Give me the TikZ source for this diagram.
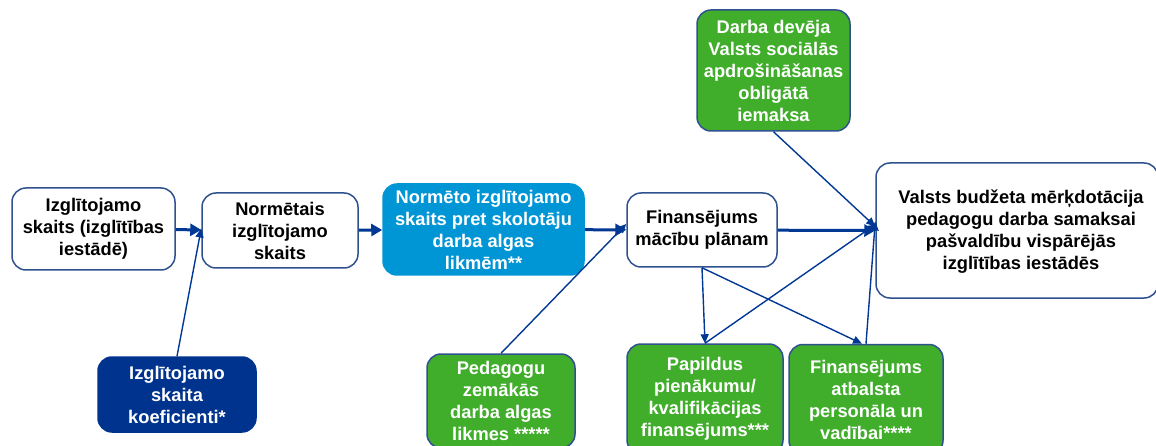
\documentclass[tikz,border=0pt]{standalone}
\usepackage{fontspec}
\setmainfont{Liberation Sans}
\usetikzlibrary{arrows.meta}
\definecolor{frame}{RGB}{47,82,143}
\definecolor{flow}{RGB}{0,56,147}
\definecolor{leaf}{RGB}{64,173,43}
\definecolor{sky}{RGB}{0,150,214}
\definecolor{navy}{RGB}{0,51,141}
\tikzstyle{box}=[draw=frame, line width=1.5pt, rounded corners=14pt, align=center, inner sep=2pt, font=\bfseries\fontsize{18.3}{22}\selectfont]
\tikzstyle{stagebox}=[box, fill=white, text=black]
\tikzstyle{greenbox}=[box, fill=leaf, text=white]
\tikzstyle{skybox}=[box, fill=sky, draw=sky, text=white]
\tikzstyle{navybox}=[box, fill=navy, draw=navy, text=white]
\tikzstyle{mainflow}=[draw=flow, line width=3pt, -{Triangle[length=11pt,width=12pt]}]
\tikzstyle{sideflow}=[draw=flow, line width=1.4pt, -{Triangle[length=9pt,width=8pt]}]
\newcommand{\stage}{\node[stagebox]}

\begin{document}
\begin{tikzpicture}[x=1pt, y=-1pt]
\useasboundingbox (0,0) rectangle (1156,446);
\stage (count) at (93.5,229) [minimum width=163, minimum height=82] {Izglītojamo\\skaits (izglītības\\iestādē)};
\stage (norm) at (280,230.5) [minimum width=156, minimum height=75] {Normētais\\izglītojamo\\skaits};
\node[skybox] (ratio) at (483.5,229.5) [minimum width=201, minimum height=91] {Normēto izglītojamo\\skaits pret skolotāju\\darba algas\\likmēm**};
\stage (plan) at (702,230) [minimum width=150, minimum height=74] {Finansējums\\mācību plānam};
\stage (budget) at (1017,230.5) [minimum width=282, minimum height=135] {};
\node[font=\bfseries\fontsize{18.3}{22}\selectfont, align=center] (budgettext) at (1021,232) {Valsts budžeta mērķdotācija\\pedagogu darba samaksai\\pašvaldību vispārējās\\izglītības iestādēs};
\node[greenbox] (social) at (773.5,70.5) [minimum width=153, minimum height=121] {Darba devēja\\Valsts sociālās\\apdrošināšanas\\obligātā\\iemaksa};
\node[navybox] (coef) at (177,394.5) [minimum width=158, minimum height=75] {Izglītojamo\\skaita\\koeficienti*};
\node[greenbox] (wage) at (501,401) [minimum width=148, minimum height=94] {Pedagogu\\zemākās\\darba algas\\likmes *****};
\node[greenbox] (extra) at (705,399) [minimum width=156, minimum height=110] {Papildus\\pienākumu/\\kvalifikācijas\\finansējums***};
\node[greenbox] (support) at (866,399.5) [minimum width=154, minimum height=110] {Finansējums\\atbalsta\\personāla un\\vadībai****};
\path[every edge/.style={mainflow}]
(count) edge (norm)
(norm) edge (ratio)
(ratio) edge (plan)
(plan) edge (budget.west);
\path[every edge/.style={sideflow}]
(coef.north) edge ([yshift=2]norm.west)
(wage.north) edge ([yshift=6]plan.west)
(social.south) edge ([yshift=4]budget.west)
(extra.north) edge ([yshift=6]budget.west)
(support.north) edge ([yshift=9]budget.west)
(plan.south) edge (extra.north)
(plan.south) edge ([xshift=-4]support.north);
\end{tikzpicture}
\end{document}
